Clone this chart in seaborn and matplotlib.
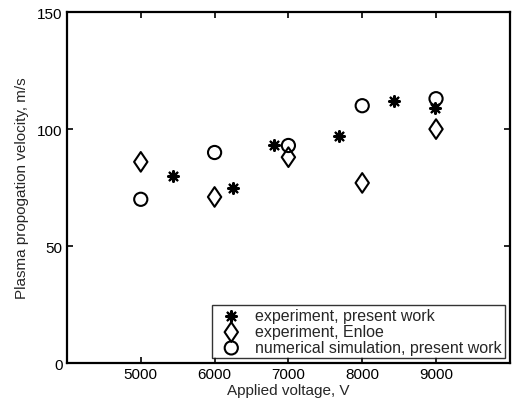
import matplotlib
matplotlib.use("Agg")
import matplotlib.pyplot as plt
from matplotlib.path import Path
import seaborn as sns
import pandas as pd

# Measured propagation velocities
exp_voltage = [5430, 6250, 6810, 7690, 8430, 8990]
exp_velocity = [80, 75, 93, 97, 112, 109]

enloe_voltage = [5000, 6000, 7000, 8000, 9000]
enloe_velocity = [86, 71, 88, 77, 100]

sim_voltage = [5000, 6000, 7000, 8000, 9000]
sim_velocity = [70, 90, 93, 110, 113]

x_ticks = [5000, 6000, 7000, 8000, 9000]
y_ticks = [0, 50, 100, 150]

sns.set_theme(style="white")
plt.rcParams["font.family"] = ["Liberation Sans", "DejaVu Sans"]

fig = plt.figure(figsize=(5.15, 4.10), dpi=100)
ax = fig.add_axes([0.130, 0.112, 0.860, 0.856])

df_exp = pd.DataFrame({"V": exp_voltage, "u": exp_velocity})
df_enl = pd.DataFrame({"V": enloe_voltage, "u": enloe_velocity})
df_sim = pd.DataFrame({"V": sim_voltage, "u": sim_velocity})

# MATLAB-style diamond: somewhat wider than matplotlib's thin diamond
diamond = Path([(0, 1), (0.68, 0), (0, -1), (-0.68, 0), (0, 1)],
               [Path.MOVETO, Path.LINETO, Path.LINETO, Path.LINETO, Path.CLOSEPOLY])

sns.scatterplot(data=df_exp, x="V", y="u", ax=ax, marker=(8, 2, 0), s=60,
                color="black", edgecolor="black", linewidth=1.6,
                label="experiment, present work")
sns.scatterplot(data=df_enl, x="V", y="u", ax=ax, marker=diamond, s=200,
                facecolor="none", edgecolor="black", linewidth=1.5,
                label="experiment, Enloe")
sns.scatterplot(data=df_sim, x="V", y="u", ax=ax, marker="o", s=90,
                facecolor="none", edgecolor="black", linewidth=1.5,
                label="numerical simulation, present work")

ax.set_xlim(4000, 10000)
ax.set_ylim(0, 150)
ax.set_xticks(x_ticks)
ax.set_yticks(y_ticks)
ax.tick_params(direction="in", length=4.5, width=1.2, top=True, right=True,
               labelsize=11, colors="black", pad=3,
               bottom=True, left=True)
for sp in ax.spines.values():
    sp.set_linewidth(1.6)
    sp.set_color("black")

ax.set_xlabel("Applied voltage, V", fontsize=11, labelpad=1)
ax.set_ylabel("Plasma propogation velocity, m/s", fontsize=11, labelpad=6)

leg = ax.legend(loc="lower right", fontsize=11.5, frameon=True, fancybox=False,
                borderpad=0.2, handletextpad=0.5, labelspacing=0.05,
                borderaxespad=0.3, handlelength=2.0)
leg.get_frame().set_edgecolor("black")
leg.get_frame().set_linewidth(1.0)

fig.savefig("out.png", dpi=100)
